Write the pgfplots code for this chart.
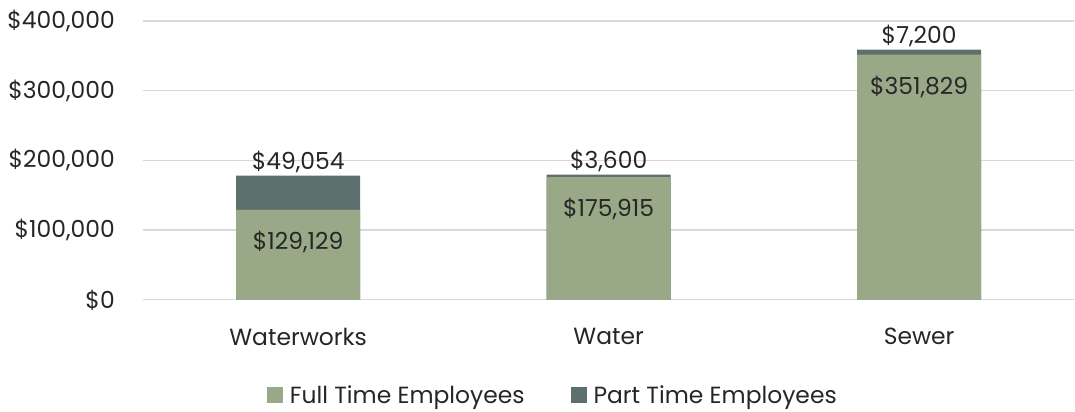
\documentclass[border=0pt]{standalone}
\usepackage{fontspec}
\setmainfont{Poppins}
\usepackage{pgfplots}
\pgfplotsset{compat=1.18}
\definecolor{fulltime}{HTML}{99A886}
\definecolor{parttime}{HTML}{5E706E}
\definecolor{gridgray}{HTML}{D9D9D9}
\definecolor{txt}{HTML}{262626}

\begin{document}
\begin{tikzpicture}[font=\fontsize{23.5}{27}\selectfont, text=txt]
\begin{axis}[
  at={(0,0)}, anchor=south west,
  scale only axis, width=932bp, height=279bp,
  ybar, bar width=0.4, bar shift=0pt,
  xmin=-0.5, xmax=2.5, ymin=0, ymax=400000,
  xtick={0,1,2}, xticklabels={Waterworks,Water,Sewer},
  ytick={0,100000,200000,300000,400000},
  scaled y ticks=false,
  /pgf/number format/.cd, fixed, precision=0, 1000 sep={,}, assume math mode=true,
  /pgfplots/.cd,
  yticklabel={\$\pgfmathprintnumber{\tick}},
  yticklabel style={anchor=east, inner sep=0pt, xshift=-28bp},
  xticklabel style={anchor=center, inner sep=0pt, yshift=-37bp},
  axis line style={draw=none},
  major tick length=0pt,
  ymajorgrids, grid style={gridgray, line width=1.3bp},
  point meta=explicit,
  nodes near coords={\$\pgfmathprintnumber{\pgfplotspointmeta}},
  legend columns=2,
  reverse legend,
  legend style={draw=none, fill=none, at={(0.44,-0.342)}, anchor=center,
    /tikz/every odd column/.append style={column sep=5bp},
    /tikz/every even column/.append style={column sep=44bp}},
  legend image code/.code={\fill[#1] (0bp,-8bp) rectangle (16bp,8bp);},
]
% totals (part time sits on top of full time); meta = part-time amount
\addplot[fill=parttime, draw=none,
  every node near coord/.append style={anchor=center, yshift=14bp}]
  coordinates {(0,178183) [49054] (1,179515) [3600] (2,359029) [7200]};
\addlegendentry{Part Time Employees}
\addplot[fill=fulltime, draw=none,
  every node near coord/.append style={anchor=center, yshift=-32bp}]
  coordinates {(0,129129) [129129] (1,175915) [175915] (2,351829) [351829]};
\addlegendentry{Full Time Employees}
\end{axis}
\path[use as bounding box] (-143bp,-112bp) rectangle (932bp,300bp);
\end{tikzpicture}
\end{document}
